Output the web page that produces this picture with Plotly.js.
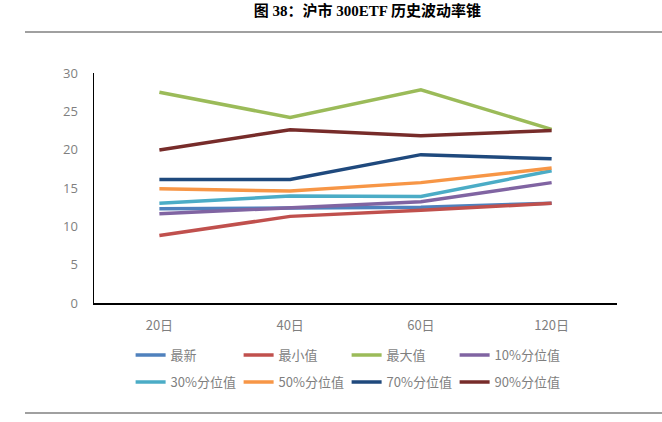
<!DOCTYPE html>
<html><head><meta charset="utf-8">
<script src="https://cdn.plot.ly/plotly-3.0.1.min.js"></script>
<style>html,body{margin:0;padding:0;background:#fff}#c{width:662px;height:422px}</style>
</head><body><div id="c"></div>
<script>
const categories = ['20日','40日','60日','120日'];
const seriesNames = ['最新','最小值','最大值','10%分位值','30%分位值','50%分位值','70%分位值','90%分位值'];
const latest = [12.3, 12.4, 12.5, 13.0];
const minVal = [8.8, 11.3, 12.1, 13.0];
const maxVal = [27.5, 24.2, 27.8, 22.65];
const p10 = [11.65, 12.4, 13.2, 15.7];
const p30 = [13.0, 13.95, 13.9, 17.25];
const p50 = [14.9, 14.6, 15.7, 17.6];
const p70 = [16.1, 16.1, 19.35, 18.8];
const p90 = [19.95, 22.6, 21.8, 22.5];
const colors = ['#4F81BD','#C0504D','#9BBB59','#8064A2','#4BACC6','#F79646','#1F497D','#772C2A'];
const values = [latest, minVal, maxVal, p10, p30, p50, p70, p90];

const traces = values.map((v,i)=>({
  type:'scatter', mode:'lines', x:categories, y:v, name:seriesNames[i],
  legend: i < 4 ? 'legend' : 'legend2',
  line:{color:colors[i], width:3.5}
}));

const legendBase = {orientation:'h', x:0.07, xanchor:'left', yanchor:'middle',
    entrywidth:63, entrywidthmode:'pixels', itemwidth:30, tracegroupgap:0,
    font:{size:13, color:'#7F7F7F'}, bgcolor:'rgba(0,0,0,0)'};

const layout = {
  width:662, height:422,
  margin:{l:94, r:45, t:73, b:119},
  paper_bgcolor:'#fff', plot_bgcolor:'#fff',
  font:{family:'"Noto Sans CJK SC", sans-serif', color:'#595959', size:12},
  title:{text:'<b>图 38：沪市 300ETF 历史波动率锥</b>', x:0.555, xanchor:'center', y:0.975, yanchor:'middle',
    font:{family:'"Liberation Serif", "Noto Sans CJK SC", serif', size:15, color:'#000'}},
  xaxis:{type:'category', range:[-0.5,3.5], showline:true, linecolor:'#000', linewidth:1.5,
    showgrid:false, ticks:'', tickfont:{size:13, color:'#7F7F7F'}, fixedrange:true, zeroline:false,
    ticklabelstandoff:10, automargin:false},
  yaxis:{range:[0,30], dtick:5, showline:true, linecolor:'#000', linewidth:1.5, showgrid:false,
    ticks:'', tickfont:{size:13, color:'#7F7F7F', family:'"Open Sans", "Liberation Sans", sans-serif'}, zeroline:false,
    ticklabelstandoff:12, automargin:false},
  showlegend:true,
  legend:Object.assign({}, legendBase, {y:(303-355)/230}),
  legend2:Object.assign({}, legendBase, {y:(303-382)/230}),
  shapes:[
    {type:'line', xref:'paper', yref:'paper', x0:-0.132, x1:1.09, y0:1.178, y1:1.178, line:{color:'#808080', width:1.5}},
    {type:'line', xref:'paper', yref:'paper', x0:-0.132, x1:1.09, y0:-0.478, y1:-0.478, line:{color:'#808080', width:1.5}}
  ]
};
Plotly.newPlot('c', traces, layout, {displayModeBar:false, staticPlot:true});
</script></body></html>
